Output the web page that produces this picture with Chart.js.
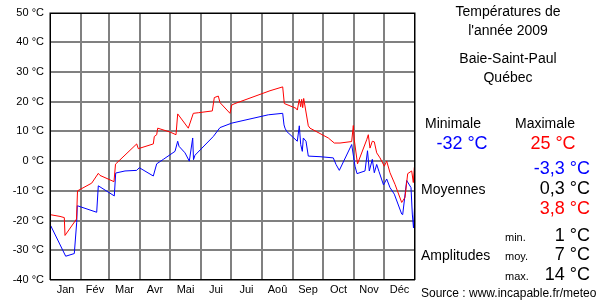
<!DOCTYPE html>
<html><head><meta charset="utf-8">
<script src="https://cdn.jsdelivr.net/npm/chart.js@4/dist/chart.umd.min.js"></script>
<style>
html,body{margin:0;padding:0;background:#fff;}
#wrap{position:relative;width:600px;height:300px;font-family:"Liberation Sans",Arial,sans-serif;}
canvas{position:absolute;left:0;top:0;}
.t{position:absolute;white-space:nowrap;line-height:1;}
.c{transform:translate(-50%,-50%);}
.r{transform:translate(-100%,-50%);}
.l{transform:translate(0,-50%);}
</style>
</head><body>
<div id="wrap">
<canvas id="c" width="600" height="300"></canvas>
<div class="t c" style="left:508px;top:11px;font-size:14px;">Températures de</div>
<div class="t c" style="left:508px;top:30px;font-size:14px;">l'année 2009</div>
<div class="t c" style="left:508px;top:58px;font-size:14px;">Baie-Saint-Paul</div>
<div class="t c" style="left:508px;top:77px;font-size:14px;">Québec</div>
<div class="t c" style="left:453px;top:123px;font-size:14px;">Minimale</div>
<div class="t c" style="left:545px;top:123px;font-size:14px;">Maximale</div>
<div class="t c" style="left:462px;top:143px;font-size:18px;color:#0000ff;">-32 °C</div>
<div class="t c" style="left:553px;top:143px;font-size:18px;color:#ff0000;">25 °C</div>
<div class="t r" style="left:590px;top:168px;font-size:18px;color:#0000ff;">-3,3 °C</div>
<div class="t l" style="left:421px;top:189px;font-size:14px;">Moyennes</div>
<div class="t r" style="left:590px;top:188px;font-size:18px;">0,3 °C</div>
<div class="t r" style="left:590px;top:208px;font-size:18px;color:#ff0000;">3,8 °C</div>
<div class="t l" style="left:505px;top:237px;font-size:11px;">min.</div>
<div class="t r" style="left:590px;top:235px;font-size:18px;">1 °C</div>
<div class="t l" style="left:421px;top:255px;font-size:14px;">Amplitudes</div>
<div class="t l" style="left:505px;top:256px;font-size:11px;">moy.</div>
<div class="t r" style="left:590px;top:254px;font-size:18px;">7 °C</div>
<div class="t l" style="left:505px;top:276px;font-size:11px;">max.</div>
<div class="t r" style="left:590px;top:274px;font-size:18px;">14 °C</div>
<div class="t l" style="left:421px;top:293px;font-size:12px;">Source : www.incapable.fr/meteo</div>
</div>
<script>
const monthLabels = ["Jan","Fév","Mar","Avr","Mai","Jui","Jui","Aoû","Sep","Oct","Nov","Déc"];
const monthBounds = [0,31,59,90,120,151,181,212,243,273,304,334,365];
const yTicks = [-40,-30,-20,-10,0,10,20,30,40,50];

const maxDays = [0,10,14.3,15,26.5,27.5,41.7,48.3,50,64,65.5,86.7,88.3,103.3,104.3,106.7,107.7,120,126,127.7,138.3,143.3,148.3,162.3,164.3,168.3,170,180,181.7,185,220,232.7,234.3,246,247.3,249.3,250.7,251.7,252.7,253.7,258.3,260,278.3,284.3,290,301.7,303.3,304.3,307.5,316.7,318.3,320,322.3,324.3,326.7,330,334.3,336.7,340,345,351.7,355,357.7,361.7,363.3,364.3,365];
const maxTemps = [-18,-18.6,-19,-25,-19.5,-10,-7.4,-4.1,-4.8,-6.9,-1,5.8,4.2,5.8,8.3,8.9,11.1,9.8,8.9,15.9,11.1,16.1,16.3,16.9,21.4,21.9,19.7,16.1,18.9,19.4,23.7,25,19.4,17.8,17.2,20.8,18.3,20.8,18,21.1,11.9,11.1,7.8,6.1,6.1,6.6,12,7.1,-0.9,7.2,8.9,4.4,6.7,6.5,2.8,1.1,-1.7,0,-3.9,-7.8,-13.9,-12.2,-4.2,-3.3,-7.2,-2.2,-1.5];

const minDays = [0.7,15.7,24.3,26.7,27.3,46.7,48.3,64.3,65.7,75,86.7,89.3,103.3,106.7,113.3,125,127.7,129,135,139.3,142.7,143.5,145,163.3,170,181.7,218.3,232.7,234,235,236.7,247.3,249.3,250.7,252.3,253.3,256,258.3,270,283.3,286,289.3,301.7,305,307,315,317.5,319.3,322.3,324.3,326.7,329,333.5,336.7,340,344.3,351.7,352.7,356.7,361,362.3,363.5,365];
const minTemps = [-21.7,-32,-31.1,-20.6,-15,-17.2,-8.3,-11.7,-4,-3.3,-3.1,-2.2,-5,-0.9,0.6,3.3,6.7,5,2.8,0,7.8,0.5,2,8.3,11.3,12.8,15.6,16.1,12.2,11.1,10,6.7,11.9,5.6,3.3,7.8,6.7,1.7,1.5,1.1,-1.1,-3.1,5.6,-1.7,-4.2,-3.3,3.5,-3.3,0.6,-3.9,-1.1,-3.5,-8,-6,-8.9,-11.1,-17.8,-18,-6.5,-8.9,-17.8,-22.5,-12.2];

const toPts = (xs, ys) => xs.map((x, i) => ({x: x, y: ys[i]}));
const monthMids = monthLabels.map((m, i) => (monthBounds[i] + monthBounds[i+1]) / 2);

const FONT = '"Liberation Sans", Arial, sans-serif';
const GRID = '#808080';

const boxPlugin = {
  id: 'box',
  afterDraw(chart) {
    const a = chart.chartArea, ctx = chart.ctx;
    ctx.save();
    ctx.strokeStyle = '#000';
    ctx.lineWidth = 1;
    ctx.strokeRect(Math.round(a.left) + 0.5, Math.round(a.top) + 0.5, Math.round(a.right - a.left) - 1, Math.round(a.bottom - a.top) - 1);
    ctx.restore();
  }
};

new Chart(document.getElementById('c'), {
  type: 'line',
  data: {
    datasets: [
      {data: toPts(maxDays, maxTemps), borderColor: '#ff0000', borderWidth: 1, pointRadius: 0, tension: 0, fill: false},
      {data: toPts(minDays, minTemps), borderColor: '#0000ff', borderWidth: 1, pointRadius: 0, tension: 0, fill: false}
    ]
  },
  options: {
    responsive: false,
    animation: false,
    layout: {padding: {top: 10, right: 185, left: 0, bottom: 0}},
    plugins: {legend: {display: false}, tooltip: {enabled: false}},
    scales: {
      x: {
        type: 'linear', min: 0, max: 365, position: 'bottom',
        afterBuildTicks: s => { s.ticks = monthBounds.map(v => ({value: v})); },
        ticks: {display: false},
        grid: {color: GRID, lineWidth: 2, drawTicks: false},
        border: {display: false},
        afterFit: s => { s.height = 0; }
      },
      x2: {
        type: 'linear', min: 0, max: 365, position: 'bottom',
        afterBuildTicks: s => { s.ticks = monthMids.map(v => ({value: v})); },
        ticks: {
          autoSkip: false, maxRotation: 0, padding: 3,
          color: '#000', font: {family: FONT, size: 11},
          callback: (v, i) => monthLabels[i]
        },
        grid: {display: false, drawTicks: false},
        border: {display: false},
        afterFit: s => { s.height = 20; }
      },
      y: {
        min: -40, max: 50,
        afterBuildTicks: s => { s.ticks = yTicks.map(v => ({value: v})); },
        ticks: {
          padding: 6, color: '#000', font: {family: FONT, size: 11},
          callback: v => v + ' °C'
        },
        grid: {color: GRID, lineWidth: 2, drawTicks: false},
        border: {display: false},
        afterFit: s => { s.width = 50; }
      }
    }
  },
  plugins: [boxPlugin]
});
</script>
</body></html>
